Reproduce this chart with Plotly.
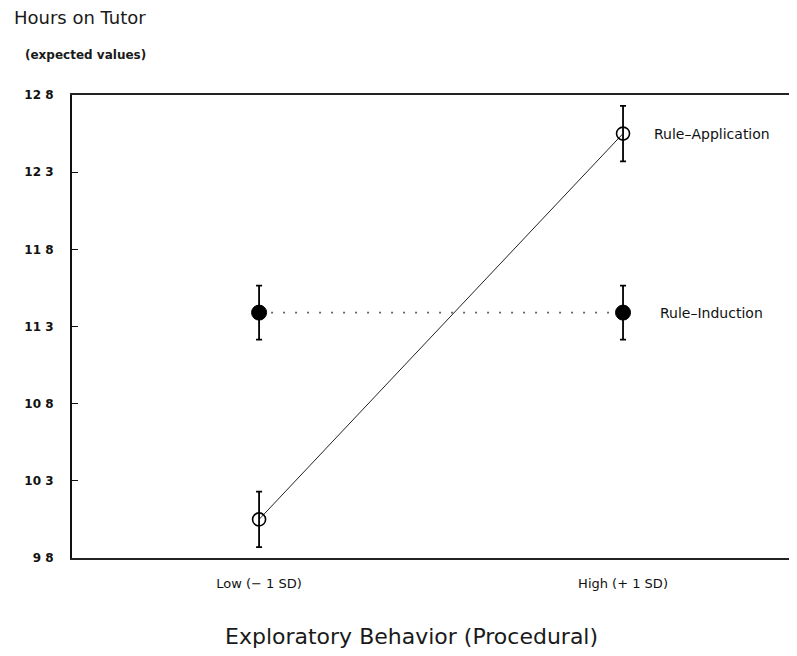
import plotly.graph_objects as go

# ---- data ----
categories = ["Low (\u2212 1 SD)", "High (+ 1 SD)"]
cat_pos = [0, 1]
rule_application = [10.05, 12.55]
rule_application_err = [0.18, 0.18]
rule_induction = [11.39, 11.39]
rule_induction_err = [0.175, 0.175]
y_ticks = [9.8, 10.3, 10.8, 11.3, 11.8, 12.3, 12.8]
y_tick_labels = ["9 8", "10 3", "10 8", "11 3", "11 8", "12 3", "12 8"]

FONT = "DejaVu Sans"
OFF = 8  # page body margin in the browser

fig = go.Figure()

fig.add_trace(go.Scatter(
    x=cat_pos, y=rule_induction, mode="lines+markers", name="Rule-Induction",
    line=dict(color="#666666", width=1.6, dash="2px,10px"),
    marker=dict(symbol="circle", size=15, color="black", line=dict(color="black", width=1)),
    error_y=dict(type="data", array=rule_induction_err, visible=True,
                 color="black", thickness=1.8, width=3),
    cliponaxis=False, showlegend=False,
))

fig.add_trace(go.Scatter(
    x=cat_pos, y=rule_application, mode="lines+markers", name="Rule-Application",
    line=dict(color="#222222", width=1),
    marker=dict(symbol="circle-open", size=13, color="black", line=dict(color="black", width=1.6)),
    error_y=dict(type="data", array=rule_application_err, visible=True,
                 color="black", thickness=1.8, width=3),
    cliponaxis=False, showlegend=False,
))

W, H = 797 - OFF, 656 - OFF
L, R, T, B = 72 - OFF, 0, 95 - OFF, 98
pw, ph = W - L - R, H - T - B


def px(x, y):
    return (x - OFF - L) / pw, 1 - (y - OFF - T) / ph


annotations = []
for text, x, y, size, anchor in [
    ("Hours on Tutor", 12, 17, 18, "left"),
    ("<b>(expected values)</b>", 23, 55, 12, "left"),
    ("Exploratory Behavior (Procedural)", 411, 636, 22, "center"),
]:
    ax, ay = px(x, y)
    annotations.append(dict(text=text, x=ax, y=ay, xref="paper", yref="paper",
                            xanchor=anchor, yanchor="middle", showarrow=False,
                            font=dict(family=FONT, size=size, color="#1a1a1a")))

annotations.append(dict(text="Rule\u2013Application", x=cat_pos[1], y=rule_application[1],
                        xref="x", yref="y", xanchor="left", yanchor="middle",
                        showarrow=False, xshift=29,
                        font=dict(family=FONT, size=14, color="#111111")))
annotations.append(dict(text="Rule\u2013Induction", x=cat_pos[1], y=rule_induction[1],
                        xref="x", yref="y", xanchor="left", yanchor="middle",
                        showarrow=False, xshift=35,
                        font=dict(family=FONT, size=14, color="#111111")))

fig.update_layout(
    width=W, height=H,
    margin=dict(l=L, r=R, t=T, b=B),
    plot_bgcolor="white", paper_bgcolor="white",
    annotations=annotations,
    xaxis=dict(
        range=[-0.514, 1.478], tickvals=cat_pos, ticktext=categories,
        showgrid=False, zeroline=False, showline=True, linecolor="#222222",
        linewidth=2, mirror=True, ticks="", ticklabelstandoff=12,
        tickfont=dict(family=FONT, size=13, color="#111111"),
    ),
    yaxis=dict(
        range=[9.8, 12.8], tickvals=y_ticks, ticktext=y_tick_labels,
        showgrid=False, zeroline=False, showline=True, linecolor="#111111",
        linewidth=2, ticks="inside", ticklen=6, tickcolor="#111111",
        tickfont=dict(family=FONT, size=12, color="#111111", weight="bold"),
        ticklabelstandoff=14,
    ),
)

fig.write_html("out.html")
